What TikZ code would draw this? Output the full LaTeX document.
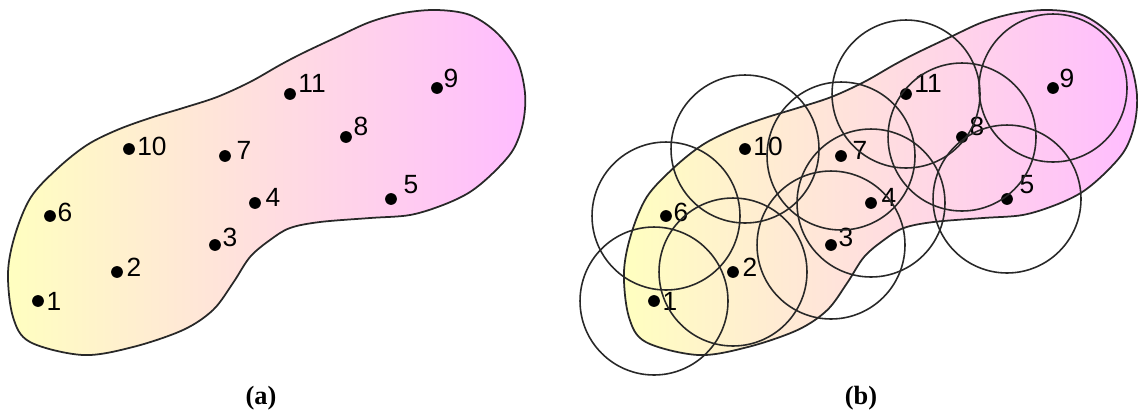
\documentclass[tikz,border=0pt]{standalone}
\usepackage{fontspec}
\setmainfont{Liberation Serif}
\newfontfamily\arialf{Liberation Sans}
\definecolor{blobleft}{RGB}{255,255,192}
\definecolor{blobright}{RGB}{255,188,255}
\definecolor{inkgray}{RGB}{40,40,40}
\begin{document}
\begin{tikzpicture}[x=0.02cm,y=-0.02cm,
  dot/.style={circle,fill=black,inner sep=0pt,minimum size=0.235cm},
  lbl/.style={inner sep=0pt,text=black,font=\arialf\fontsize{15}{17}\selectfont},
  blobline/.style={draw=inkgray,line width=1pt,left color=blobleft,right color=blobright},
  ring/.style={draw=inkgray,line width=0.9pt},
  captxt/.style={inner sep=0pt,font=\bfseries\fontsize{15}{17}\selectfont}]
\useasboundingbox (0,0) rectangle (1138,410);
% the two blobs
\foreach \s/\xs in {0/1,616/0.992}{
  \begin{scope}[shift={(\s,0)}]
    \shadedraw[blobline,xscale=\xs] plot[smooth cycle,tension=0.55] coordinates {
      (8,273) (15,235) (31,197) (58,168) (87,145) (117,130) (150,118) (183,108)
      (217,97) (250,82) (280,65) (303,53) (337,37) (370,22) (403,13) (437,10)
      (470,15) (497,33) (517,60) (525,93) (523,123) (513,150) (493,173) (470,192)
      (443,205) (410,215) (370,218) (320,222) (290,228) (270,240) (250,257)
      (233,283) (213,310) (183,330) (133,347) (83,355) (30,342) (13,317)};
  \end{scope}
}
% points and labels
\foreach \s/\p in {0/a,616/b}{
  \begin{scope}[shift={(\s,0)}]
    \foreach \n/\x/\y/\lx/\ly in {1/38/301/54/301, 2/117/272/134/267,
        3/215/245/230/237, 4/255/203/273/197, 5/391/199/411/185,
        6/50/216/65/212, 7/225/156/244/150, 8/346/137/361/126,
        9/437/88/451/78, 10/129/149/152/146, 11/290/94/312/83}{
      \node[dot] (\p\n) at (\x,\y) {};
      \node[lbl] (\p l\n) at (\lx,\ly) {\n};
    }
  \end{scope}
}
% coverage circles in (b)
\foreach \n in {1,...,11}{
  \draw[ring] (b\n.center) circle[radius=1.48cm];
}
% captions
\node[captxt] (capa) at (261,398) {(a)};
\node[captxt] (capb) at (861,398) {(b)};
\end{tikzpicture}
\end{document}
